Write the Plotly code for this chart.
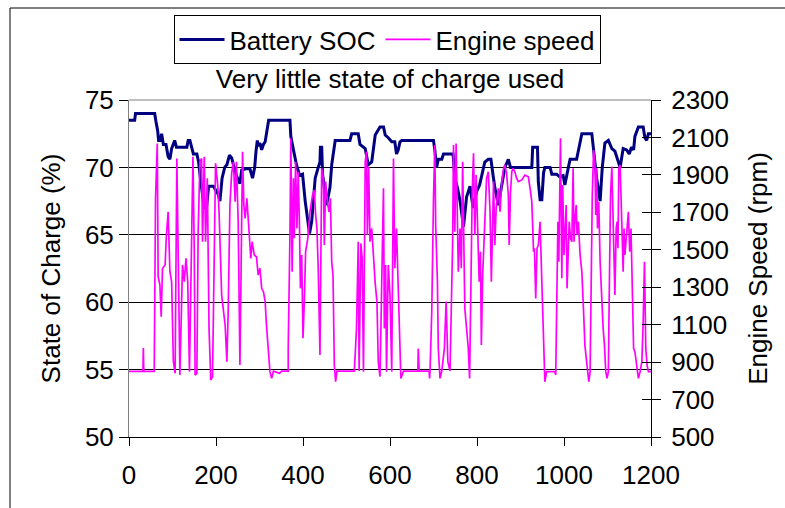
import plotly.graph_objects as go

# Battery state of charge (%) over the drive cycle
soc_time = [0, 13, 15, 59, 62, 66, 68, 72, 75, 79, 85, 90, 94, 98, 105, 109, 133, 136, 140, 144,
            148, 156, 160, 163, 167, 172, 178, 183, 194, 198, 205, 209, 214, 220, 225, 231, 236,
            240, 247, 255, 259, 268, 278, 284, 289, 292, 295, 297, 301, 305, 309, 313, 317, 321,
            370, 372, 378, 385, 392, 399, 405, 411, 415, 420, 428, 435, 439, 440, 443, 445, 454,
            462, 466, 474, 508, 512, 527, 531, 543, 550, 558, 566, 577, 585, 589, 596, 604, 611,
            615, 619, 623, 627, 700, 703, 707, 711, 719, 723, 745, 749, 755, 761, 766, 769, 776,
            784, 791, 799, 806, 812, 818, 826, 832, 837, 841, 849, 857, 864, 872, 877, 926, 928,
            939, 941, 945, 949, 953, 956, 968, 972, 983, 990, 998, 1002, 1010, 1014, 1029, 1033,
            1041, 1064, 1068, 1075, 1083, 1088, 1094, 1102, 1110, 1117, 1129, 1136, 1144, 1150,
            1155, 1160, 1163, 1171, 1182, 1186, 1190, 1194, 1200]
soc_value = [73.5, 73.5, 74.0, 74.0, 73.4, 72.7, 72.0, 72.0, 72.5, 71.7, 71.7, 70.8, 70.6, 71.4,
             72.0, 71.5, 71.5, 72.0, 72.0, 71.4, 71.0, 71.0, 70.4, 69.5, 68.3, 67.2, 66.9, 68.6,
             68.6, 68.4, 68.0, 67.5, 69.2, 70.0, 70.2, 70.9, 70.7, 70.2, 69.4, 68.8, 69.8, 69.9,
             69.9, 69.2, 70.0, 71.2, 72.0, 71.6, 71.8, 71.3, 71.7, 71.9, 72.7, 73.5, 73.5, 72.3,
             71.3, 70.2, 69.4, 69.5, 67.5, 66.2, 65.1, 66.0, 69.2, 70.0, 70.4, 71.5, 71.5, 69.5,
             67.2, 68.5, 70.2, 72.0, 72.0, 72.5, 72.5, 71.7, 71.4, 70.2, 70.4, 72.4, 73.0, 73.0,
             72.4, 72.2, 71.9, 71.9, 71.0, 71.3, 71.9, 72.0, 72.0, 71.3, 70.0, 70.6, 70.6, 71.0,
             71.0, 69.2, 68.5, 67.5, 66.5, 65.6, 67.8, 68.6, 67.0, 68.2, 68.7, 69.5, 70.4, 70.6,
             70.6, 69.4, 68.5, 67.2, 68.7, 70.0, 70.6, 70.0, 70.0, 71.5, 71.5, 68.9, 67.6, 67.6,
             69.6, 70.0, 70.0, 69.5, 69.5, 69.3, 69.4, 68.7, 70.0, 70.6, 70.6, 71.3, 72.5, 72.5,
             71.2, 69.2, 67.5, 70.0, 71.8, 72.0, 71.4, 71.2, 70.0, 71.4, 71.3, 71.0, 71.5, 71.3,
             72.3, 73.0, 73.0, 72.2, 72.0, 72.5, 72.5]

# Engine speed (rpm) over the same cycle
rpm_time = [0, 32, 33, 34, 58, 59, 61, 65, 67, 71, 74, 77, 83, 86, 90, 94, 98, 102, 106, 110, 113,
            117, 123, 127, 131, 135, 139, 143, 147, 150, 152, 156, 159, 163, 167, 169, 173, 176,
            180, 184, 188, 192, 196, 199, 204, 207, 213, 221, 225, 228, 232, 236, 240, 244, 247,
            251, 255, 257, 261, 264, 267, 271, 276, 280, 283, 288, 293, 297, 301, 305, 309, 313,
            316, 320, 324, 328, 332, 346, 351, 366, 366, 370, 372, 375, 378, 380, 383, 386, 389,
            392, 394, 397, 400, 403, 406, 411, 416, 422, 426, 429, 432, 435, 439, 443, 447, 449,
            452, 457, 460, 463, 466, 469, 472, 475, 478, 518, 523, 527, 529, 533, 536, 539, 543,
            546, 548, 551, 554, 558, 562, 566, 570, 573, 577, 581, 585, 587, 590, 592, 596, 600,
            604, 608, 611, 615, 619, 623, 625, 631, 664, 665, 667, 690, 691, 692, 696, 700, 703,
            705, 709, 711, 715, 719, 725, 729, 733, 738, 744, 746, 749, 752, 755, 757, 761, 764,
            767, 770, 772, 776, 780, 783, 786, 789, 792, 795, 798, 801, 805, 808, 810, 813, 816,
            818, 822, 826, 830, 833, 835, 838, 841, 844, 847, 849, 853, 857, 861, 864, 868, 872,
            874, 877, 880, 883, 887, 891, 895, 903, 910, 918, 922, 926, 930, 932, 935, 938, 941,
            945, 949, 950, 953, 956, 960, 979, 981, 983, 986, 988, 990, 992, 995, 997, 1000, 1002,
            1005, 1007, 1010, 1012, 1015, 1018, 1021, 1023, 1025, 1028, 1030, 1033, 1037, 1041,
            1045, 1048, 1052, 1054, 1057, 1060, 1062, 1065, 1068, 1071, 1073, 1075, 1077, 1080,
            1083, 1087, 1090, 1093, 1096, 1099, 1102, 1104, 1107, 1110, 1113, 1115, 1117, 1120,
            1122, 1124, 1126, 1129, 1131, 1133, 1136, 1138, 1140, 1144, 1148, 1151, 1154, 1157,
            1160, 1163, 1167, 1171, 1175, 1179, 1182, 1185, 1188, 1191, 1194, 1200]
rpm_value = [850, 850, 975, 850, 850, 1080, 1775, 2068, 1356, 1312, 1143, 1400, 1419, 1579, 1703,
             1383, 1330, 902, 840, 1988, 1561, 831, 1419, 1330, 1454, 1330, 849, 1472, 1997, 1490,
             831, 840, 1597, 1970, 1988, 1543, 1997, 1543, 1882, 1080, 804, 822, 1436, 1962, 1846,
             1703, 1258, 1098, 902, 1169, 1739, 1908, 1970, 1757, 1970, 1650, 884, 1294, 2024,
             1739, 1668, 1775, 1614, 1454, 1543, 1472, 1463, 1365, 1401, 1294, 1276, 1223, 1098,
             973, 849, 813, 852, 840, 852, 852, 973, 1579, 2095, 1383, 1882, 1561, 1970, 1614,
             1917, 1614, 1294, 1472, 1027, 1223, 1490, 1561, 1703, 1793, 1819, 1686, 1614, 1401,
             938, 1935, 1882, 1525, 1864, 1739, 1703, 1775, 1436, 1365, 884, 795, 852, 852, 1080,
             1543, 852, 1534, 1454, 849, 1970, 2024, 1579, 1944, 1543, 1614, 1454, 1321, 1223,
             902, 822, 1436, 1828, 1080, 1419, 849, 1419, 1258, 849, 1988, 1401, 1614, 1330, 938,
             813, 852, 852, 973, 852, 852, 813, 852, 1169, 1775, 2060, 1632, 1330, 973, 813, 852,
             973, 1223, 902, 852, 1543, 2060, 1597, 2068, 1561, 1383, 1614, 1401, 1970, 1579,
             1187, 1080, 973, 813, 1348, 1810, 2015, 1579, 1899, 1668, 1330, 1490, 991, 1365,
             1543, 1650, 1882, 1917, 1703, 1330, 1614, 1864, 1525, 1721, 1793, 1828, 1703, 1864,
             1935, 1953, 1908, 1793, 1525, 1810, 1917, 1935, 1917, 1882, 1864, 1873, 1899, 1890,
             1828, 1757, 1490, 1508, 1240, 1508, 1525, 1650, 1330, 1258, 938, 795, 849, 849, 831,
             1169, 1650, 1436, 1899, 2095, 1348, 1846, 1472, 1597, 1739, 1294, 1508, 1650, 1561,
             1543, 1935, 1543, 1650, 1739, 1579, 1650, 1472, 1383, 1169, 991, 902, 849, 795, 849,
             1330, 1792, 2033, 1970, 1686, 1935, 1614, 1757, 1436, 1187, 1080, 991, 849, 813, 849,
             1258, 1792, 1944, 1614, 1419, 1258, 1614, 1650, 1508, 1935, 1953, 1721, 1632, 1383,
             1614, 1472, 1614, 1703, 1490, 1614, 1294, 973, 956, 867, 813, 849, 902, 1116, 1436,
             973, 884, 849, 849]

# Axis ticks
x_ticks = [0, 200, 400, 600, 800, 1000, 1200]
soc_ticks = [50, 55, 60, 65, 70, 75]
rpm_ticks = [500, 700, 900, 1100, 1300, 1500, 1700, 1900, 2100, 2300]

FONT = "Liberation Sans, Arial, sans-serif"
FS = 26
W, H = 785, 508
ML, MR, MT, MB = 129, 134, 100, 71
PW, PH = W - ML - MR, H - MT - MB


def px_x(p):
    return (p - ML) / PW


def px_y(p):
    return (H - MB - p) / PH


fig = go.Figure()
fig.add_trace(go.Scatter(x=soc_time, y=soc_value, name="Battery SOC", mode="lines",
                         line=dict(color="#000080", width=3), yaxis="y"))
fig.add_trace(go.Scatter(x=rpm_time, y=rpm_value, name="Engine speed", mode="lines",
                         line=dict(color="#FF00FF", width=1.7), yaxis="y2"))

fig.update_layout(
    width=W, height=H,
    margin=dict(l=ML, r=MR, t=MT, b=MB),
    paper_bgcolor="white", plot_bgcolor="white",
    font=dict(family=FONT, size=FS, color="black"),
    title=dict(text="Very little state of charge used", x=0.5, xref="paper",
               y=1 - 79 / H, yref="container", xanchor="center", yanchor="middle",
               font=dict(size=FS)),
    xaxis=dict(range=[0, 1200], tickvals=x_ticks, showgrid=False, zeroline=False,
               showline=True, linecolor="black", linewidth=1,
               ticks="outside", ticklen=8, tickcolor="black", ticklabelstandoff=7,
               tickfont=dict(size=FS)),
    yaxis=dict(range=[50, 75], tickvals=soc_ticks, showgrid=True, gridcolor="black",
               gridwidth=1, zeroline=False, showline=True, linecolor="#808080", linewidth=1,
               ticks="outside", ticklen=9, tickcolor="black",
               title=dict(text="State of Charge (%)", standoff=16, font=dict(size=FS)),
               tickfont=dict(size=FS)),
    yaxis2=dict(range=[500, 2300], tickvals=rpm_ticks, overlaying="y", side="right",
                showgrid=False, zeroline=False, showline=True, linecolor="black", linewidth=1,
                ticks="outside", ticklen=9, tickcolor="black", ticklabelstandoff=5,
                title=dict(text="Engine Speed (rpm)", standoff=20, font=dict(size=FS)),
                tickfont=dict(size=FS)),
    yaxis3=dict(range=[500, 2300], tickvals=rpm_ticks, overlaying="y", side="right",
                anchor="x", showgrid=False, zeroline=False, showline=False,
                showticklabels=False, ticks="inside", ticklen=9, tickcolor="black"),
    legend=dict(orientation="h", x=px_x(387), xanchor="center", y=px_y(15), yanchor="top",
                bordercolor="black", borderwidth=1, bgcolor="white",
                font=dict(size=FS), itemwidth=45),
    showlegend=True,
    shapes=[
        # plot-area top edge
        dict(type="line", xref="paper", yref="paper", x0=0, x1=1, y0=1, y1=1,
             line=dict(color="#808080", width=1), layer="below"),
        # outer chart frame
        dict(type="rect", xref="paper", yref="paper",
             x0=px_x(10), x1=px_x(W + 10), y0=px_y(H + 10), y1=px_y(8),
             line=dict(color="black", width=1), fillcolor="rgba(0,0,0,0)", layer="below"),
    ],
)
# invisible trace to activate the cross-tick axis
fig.add_trace(go.Scatter(x=[None], y=[None], yaxis="y3", showlegend=False, hoverinfo="skip"))

fig.write_html("out.html")
